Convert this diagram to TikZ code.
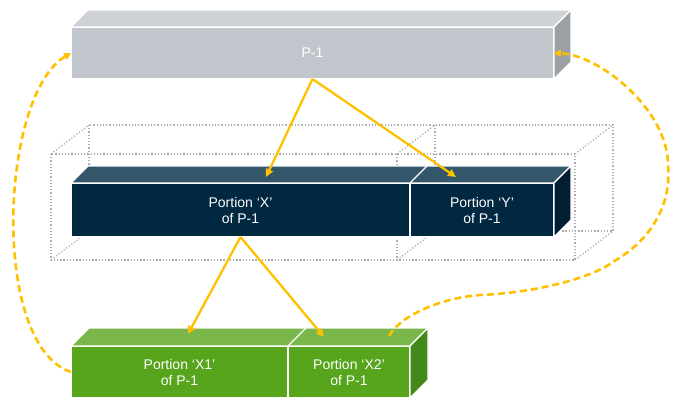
\documentclass[tikz,border=0pt]{standalone}
\usepackage{fontspec}
\setmainfont{Liberation Sans}
\usetikzlibrary{arrows.meta,calc}
\definecolor{ponefront}{HTML}{C1C5CC}
\definecolor{ponetop}{HTML}{CED1D6}
\definecolor{poneside}{HTML}{9C9FA3}
\definecolor{navyfront}{HTML}{012841}
\definecolor{navytop}{HTML}{34566B}
\definecolor{navyside}{HTML}{011E33}
\definecolor{grnfront}{HTML}{56A51D}
\definecolor{grntop}{HTML}{79B74A}
\definecolor{grnside}{HTML}{43891A}
\definecolor{amber}{HTML}{FFC000}
\definecolor{wiregray}{HTML}{A9ADB1}
\tikzset{
  face/.style={draw=white, line width=1.2pt, line join=miter},
  frontface/.style={face, inner sep=0pt, outer sep=0pt, text=white, align=center,
    font=\fontsize{14}{16}\selectfont},
  wire/.style={draw=wiregray, line width=1.2pt, dash pattern=on 1.3pt off 1.9pt},
  splitarrow/.style={draw=amber, line width=2.3pt, -{Triangle[length=8pt,width=7.5pt]}},
  looparrow/.style={draw=amber, line width=2.6pt, dash pattern=on 7pt off 4pt,
    -{Triangle[length=7pt,width=7pt]}}
}
\begin{document}
\begin{tikzpicture}[x=1pt,y=-1pt]
\useasboundingbox (0,0) rectangle (682,411);

% dotted wireframe
\draw[wire] (51,154) rectangle (575,260);
\draw[wire] (89,125) rectangle (613,231);
\draw[wire] (397,154) -- (397,260);
\draw[wire] (435,125) -- (435,231);
\draw[wire] (51,154) -- (89,125);
\draw[wire] (575,154) -- (613,125);
\draw[wire] (51,260) -- (89,231);
\draw[wire] (575,260) -- (613,231);
\draw[wire] (397,154) -- (435,125);
\draw[wire] (397,260) -- (435,231);

% P-1 box
\node[frontface, fill=ponefront, minimum width=483pt, minimum height=52pt] (P1) at (312.5,53) {P-1};
\filldraw[face, fill=ponetop] (P1.north west) -- ++(17,-17) -- ($(P1.north east)+(17,-17)$) -- (P1.north east) -- cycle;
\filldraw[face, fill=poneside] (P1.north east) -- ++(17,-17) -- ($(P1.south east)+(17,-17)$) -- (P1.south east) -- cycle;

% X / Y box
\node[frontface, fill=navyfront, minimum width=339pt, minimum height=54pt] (X) at (240.5,210) {Portion ‘X’\\of P-1};
\node[frontface, fill=navyfront, minimum width=144pt, minimum height=54pt] (Y) at (482,210) {Portion ‘Y’\\of P-1};
\filldraw[face, fill=navytop] (X.north west) -- ++(17,-17) -- ($(Y.north east)+(17,-17)$) -- (Y.north east) -- cycle;
\draw[face] (X.north east) -- ++(17,-17);
\filldraw[face, fill=navyside] (Y.north east) -- ++(17,-17) -- ($(Y.south east)+(17,-17)$) -- (Y.south east) -- cycle;

% X1 / X2 box
\node[frontface, fill=grnfront, minimum width=217pt, minimum height=52pt] (X1) at (179.5,372) {Portion ‘X1’\\of P-1};
\node[frontface, fill=grnfront, minimum width=122pt, minimum height=52pt] (X2) at (349,372) {Portion ‘X2’\\of P-1};
\filldraw[face, fill=grntop] (X1.north west) -- ++(18,-18) -- ($(X2.north east)+(18,-18)$) -- (X2.north east) -- cycle;
\draw[face] (X1.north east) -- ++(18,-18);
\filldraw[face, fill=grnside] (X2.north east) -- ++(18,-18) -- ($(X2.south east)+(18,-18)$) -- (X2.south east) -- cycle;

% arrow targets on top faces
\coordinate (xtip) at (266,177);
\coordinate (ytip) at (456,177);
\coordinate (xonetip) at (188,334);
\coordinate (xtwotip) at (324,337);
\coordinate (loopstart) at (389,336);

\draw[splitarrow] (P1.south) -- (xtip);
\draw[splitarrow] (P1.south) -- (ytip);
\draw[splitarrow] (X.south) -- (xonetip);
\draw[splitarrow] (X.south) -- (xtwotip);

% dashed loops
\draw[looparrow] (X1.west) .. controls (-10,345) and (0,95) .. (P1.west);
\draw[looparrow] (loopstart) .. controls (400,316) and (440,298) .. (480,295)
   .. controls (530,293) and (590,280) .. (616,260)
   .. controls (650,240) and (672,205) .. (668,165)
   .. controls (668,110) and (600,55) .. (P1.east);
\end{tikzpicture}
\end{document}
